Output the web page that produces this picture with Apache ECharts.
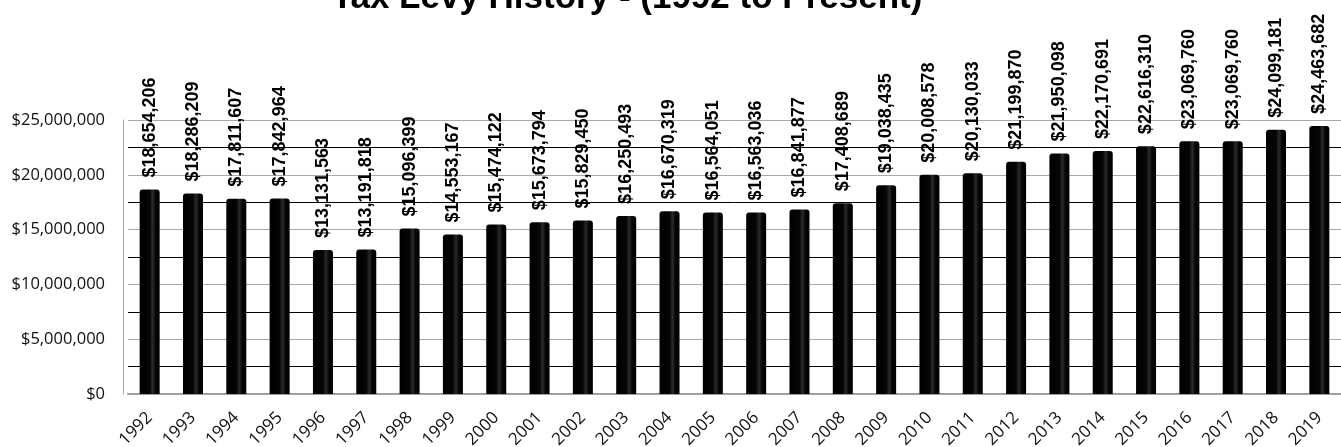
<!DOCTYPE html>
<html>
<head>
<meta charset="utf-8">
<script src="https://cdn.jsdelivr.net/npm/echarts@6/dist/echarts.min.js"></script>
<style>
html,body{margin:0;padding:0;background:#fff;}
#chart{width:1341px;height:447px;}
</style>
</head>
<body>
<div id="chart"></div>
<script>
var titleText = 'Tax Levy History - (1992 to Present)';
var years = ['1992','1993','1994','1995','1996','1997','1998','1999','2000','2001','2002','2003','2004','2005','2006','2007','2008','2009','2010','2011','2012','2013','2014','2015','2016','2017','2018','2019'];
var levy = [18654206, 18286209, 17811607, 17842964, 13131563, 13191818, 15096399, 14553167, 15474122, 15673794, 15829450, 16250493, 16670319, 16564051, 16563036, 16841877, 17408689, 19038435, 20008578, 20130033, 21199870, 21950098, 22170691, 22616310, 23069760, 23069760, 24099181, 24463682];
var yTicks = [0, 5000000, 10000000, 15000000, 20000000, 25000000];

function money(v){ return '$' + v.toLocaleString('en-US'); }

var chart = echarts.init(document.getElementById('chart'), null, {renderer:'canvas'});
var option = {
  backgroundColor: '#fff',
  animation: false,
  title: {
    text: titleText,
    left: 622,
    textAlign: 'center',
    top: -24,
    textStyle: {fontFamily: 'Liberation Sans, Arial', fontWeight: 'bold', fontSize: 35, color: '#000'}
  },
  grid: {left: 128, right: 0, top: 120, bottom: 53, containLabel: false, outerBoundsMode: 'none'},
  xAxis: {
    type: 'category',
    data: years,
    axisLine: {show: true, lineStyle: {color: '#a0a0a0', width: 2}},
    axisTick: {show: false},
    axisLabel: {rotate: 45, margin: 21, fontFamily: 'Open Sans', fontSize: 17, color: '#111'}
  },
  yAxis: {
    type: 'value',
    min: 0,
    max: 25000000,
    interval: 2500000,
    offset: 5,
    axisLine: {show: true, lineStyle: {color: '#a8a8a8', width: 1}},
    axisTick: {show: false},
    axisLabel: {
      margin: 18,
      fontFamily: 'Open Sans',
      fontSize: 16.5,
      color: '#111',
      formatter: function(v){ return yTicks.indexOf(v) >= 0 ? money(v) : ''; }
    },
    splitLine: {show: true, lineStyle: {color: ['#a8a8a8', '#000000'], width: 1}}
  },
  series: [{
    type: 'bar',
    data: levy,
    barWidth: 20,
    itemStyle: {
      borderRadius: [3, 3, 0, 0],
      color: new echarts.graphic.LinearGradient(0, 0, 1, 0, [
        {offset: 0, color: '#000'},
        {offset: 0.5, color: '#050505'},
        {offset: 0.65, color: '#2a2a2a'},
        {offset: 0.8, color: '#050505'},
        {offset: 1, color: '#000'}
      ])
    },
    label: {
      show: true,
      position: 'top',
      rotate: 90,
      align: 'left',
      verticalAlign: 'middle',
      distance: 12,
      fontFamily: 'Liberation Sans, Arial',
      fontWeight: 'bold',
      fontSize: 18,
      color: '#000',
      formatter: function(p){ return money(p.value); }
    }
  }]
};
chart.setOption(option);
</script>
</body>
</html>
